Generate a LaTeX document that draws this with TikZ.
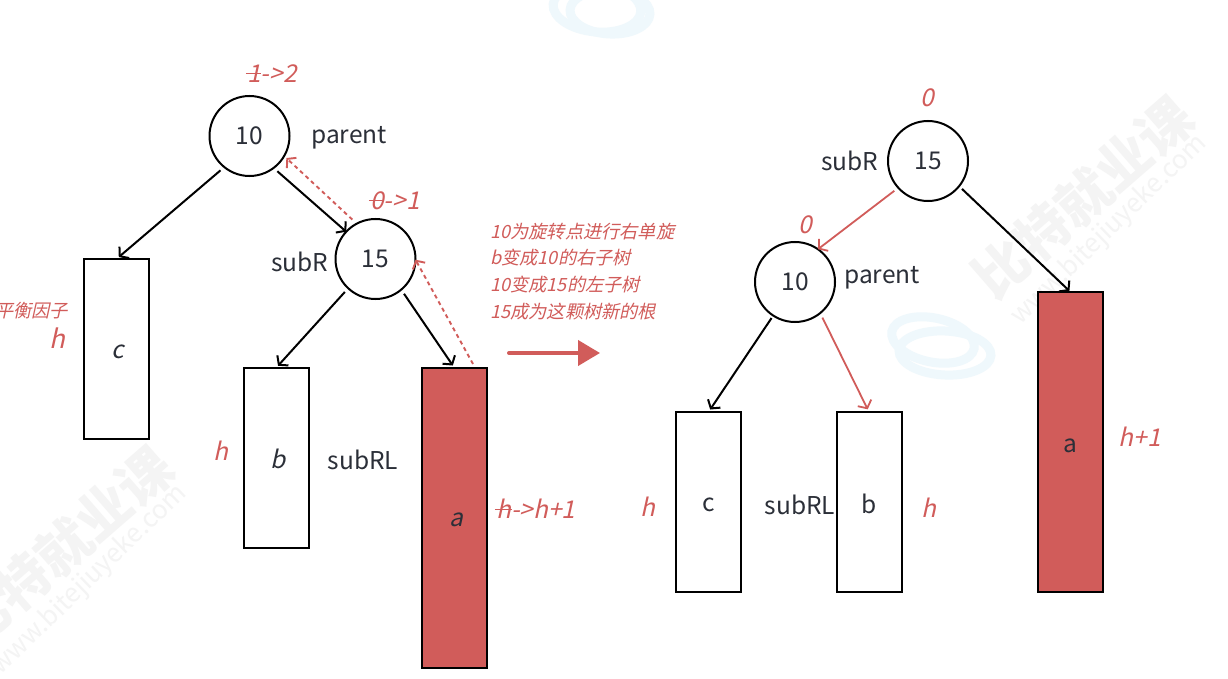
\documentclass[tikz,border=0pt]{standalone}
\usepackage{fontspec}
\setmainfont{Noto Sans CJK SC}
\newfontfamily\redit[FakeSlant=0.22]{Noto Sans CJK SC}
\usetikzlibrary{arrows.meta,calc}
\newsavebox{\strkbox}
\newcommand{\strk}[1]{\sbox{\strkbox}{#1}\rlap{\kern-1.5pt\rule[0.36em]{\dimexpr\wd\strkbox+2pt\relax}{1.3pt}}\usebox{\strkbox}}
\definecolor{redc}{HTML}{D15C5A}
\definecolor{ink}{HTML}{2B2F38}
\definecolor{wm}{HTML}{F4F4F4}
\definecolor{ring}{HTML}{EFF8FC}
\tikzset{
  tree/.style={draw=black,line width=2pt,circle,minimum size=80pt,inner sep=0pt,outer sep=0pt,text=ink,font=\fontsize{24.5}{26}\selectfont},
  box/.style={draw=black,line width=2pt,minimum width=65pt,inner sep=0pt,outer sep=0pt},
  redbox/.style={box,fill=redc},
  lbl/.style={inner sep=0pt,text=ink,font=\fontsize{24.5}{26}\selectfont},
  ilbl/.style={inner sep=0pt,text=ink,font=\redit\fontsize{24.5}{26}\selectfont},
  rlbl/.style={inner sep=0pt,text=redc,font=\redit\fontsize{24.5}{26}\selectfont},
  note/.style={inner sep=0pt,text=redc,align=left,font=\redit\fontsize{18.2}{26.7}\selectfont},
  edge/.style={draw=black,line width=2pt,-{Straight Barb[length=6pt,width=15pt,line width=2pt]}},
  rededge/.style={draw=redc,line width=1.8pt,-{Straight Barb[length=6pt,width=15pt,line width=1.8pt]}},
  dashedge/.style={draw=redc,line width=1.9pt,dash pattern=on 4pt off 3.5pt,-{Straight Barb[length=6pt,width=14pt,line width=1.9pt]}},
  bigarrow/.style={draw=redc,line width=4pt,line cap=round,-{Triangle[length=22pt,width=25pt,fill=redc]}},
  wmbig/.style={text=wm,inner sep=0pt,font=\bfseries\fontsize{54}{60}\selectfont},
  wmsmall/.style={text=wm,inner sep=0pt,font=\fontsize{26}{28}\selectfont},
  ringline/.style={draw=ring,line width=9pt}
}
\begin{document}
\begin{tikzpicture}[x=1pt,y=-1pt]
\useasboundingbox (0,0) rectangle (1228,679);
\clip (0,0) rectangle (1228,679);
\fill[white] (0,0) rectangle (1228,679);
% watermarks
\draw[ringline] (933,340) ellipse [x radius=42pt,y radius=22pt,rotate=-12];
\draw[ringline] (945,353) ellipse [x radius=46pt,y radius=22pt,rotate=-3];
\draw[ringline] (597,8) ellipse [x radius=44pt,y radius=24pt,rotate=-5];
\draw[ringline] (610,12) ellipse [x radius=40pt,y radius=22pt,rotate=-3];
\node[wmbig,rotate=41] (wa) at (1083,197) {比特就业课};
\node[wmsmall,rotate=44] (wb) at (1109,230) {www.bitejiuyeke.com};
\node[wmbig,rotate=41] (wc) at (63,547) {比特就业课};
\node[wmsmall,rotate=44] (wd) at (89,580) {www.bitejiuyeke.com};
% left tree
\node[tree] (p) at (249.5,136) {\raisebox{-1pt}{10}};
\node[tree] (s) at (375.5,259) {\raisebox{-1pt}{15}};
\node[box,minimum height=180pt] (rc) at (116.5,349) {};
\node[box,minimum height=180pt] (rb) at (276,458) {};
\node[redbox,minimum height=300pt] (ra) at (454.5,518) {};
\node[ilbl] (tc) at (118,352) {c};
\node[ilbl] (tb) at (278,459) {b};
\node[ilbl] (ta) at (456,520) {a};
\draw[edge,shorten <=5pt,shorten >=3pt] (p.-129) -- (rc.north);
\draw[edge,shorten <=5pt,shorten >=0pt] (p.-53.6) -- (s.137);
\draw[edge,shorten <=5pt,shorten >=3pt] (s.-133) -- (rb.north);
\draw[edge,shorten <=5pt,shorten >=3pt] (s.-50) -- (ra.north);
\coordinate (dstart) at (473,364);
\draw[dashedge,shorten <=6pt,shorten >=3pt] (s.118.8) -- (p.-30.4);
\draw[dashedge] (dstart) -- (s.-1.4);
\node[rlbl] (bf1) at (272,74) {\strk{1}->2};
\node[rlbl] (bf2) at (395,201) {\strk{0}->1};
\node[lbl] (lp) at (349,138) {parent};
\node[lbl] (ls) at (300,262) {subR};
\node[lbl] (lrl) at (363,460) {subRL};
\node[rlbl,anchor=east,font=\redit\fontsize{18.2}{22}\selectfont] (ph) at (68,311) {平衡因子};
\node[rlbl,font=\redit\fontsize{26}{28}\selectfont] (h1) at (57,338) {h};
\node[rlbl] (h2) at (221,451) {h};
\node[rlbl] (h3) at (536,509) {\strk{h}->h+1};
% middle
\node[note,anchor=north west] (nt) at (490,222.5) {10为旋转点进行右单旋\\b变成10的右子树\\10变成15的左子树\\15成为这颗树新的根};
\coordinate (ba) at (509,353);
\coordinate (bb) at (600,353);
\draw[bigarrow] (ba) -- (bb);
% right tree
\node[tree] (s2) at (928,161) {\raisebox{-1pt}{15}};
\node[tree] (p2) at (795,282) {\raisebox{-1pt}{10}};
\node[box,minimum height=180pt] (rc2) at (708.5,502) {};
\node[box,minimum height=180pt] (rb2) at (869,502) {};
\node[redbox,minimum height=300pt] (ra2) at (1070.5,442) {};
\node[lbl] (tc2) at (708.5,505) {c};
\node[lbl] (tb2) at (869,504) {b};
\node[lbl] (ta2) at (1070.5,446) {a};
\draw[rededge,shorten <=5pt] (s2.-138) -- (p2.55.5);
\draw[edge,shorten <=4pt,shorten >=1.5pt] (s2.-39.5) -- (ra2.north);
\draw[edge,shorten <=3pt,shorten >=3pt] (p2.-123.7) -- (rc2.north);
\draw[rededge,shorten <=5pt,shorten >=3pt] (p2.-51.3) -- (rb2.north);
\node[rlbl] (z1) at (927,98) {0};
\node[rlbl] (z2) at (805,225) {0};
\node[lbl] (ls2) at (850,161) {subR};
\node[lbl] (lp2) at (882,278) {parent};
\node[lbl] (lrl2) at (800,505) {subRL};
\node[rlbl] (h4) at (1140,437) {h+1};
\node[rlbl] (h5) at (648,507) {h};
\node[rlbl] (h6) at (929,508) {h};
\end{tikzpicture}
\end{document}
